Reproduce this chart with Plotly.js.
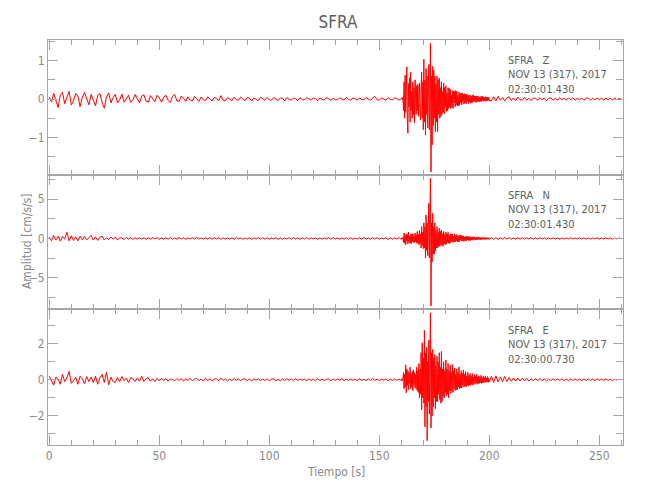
<!DOCTYPE html>
<html>
<head>
<meta charset="utf-8">
<script src="https://cdn.plot.ly/plotly-3.0.1.min.js"></script>
<style>html,body{margin:0;padding:0;background:#fff;}#chart{width:650px;height:500px;}</style>
</head>
<body>
<div id="chart"></div>
<script>
// ---- Data ----
// Sampling of each segment: [start time (s), step (s)]
const preSampling  = [0, 1];
const evtSampling  = [160.25, 0.25];
const postSampling = [201, 1];

// Z component (cm/s/s)
const zPre = [0.05,-0.08,0.15,-0.05,-0.22,0.1,0.18,-0.12,0.02,0.2,
 -0.15,-0.05,0.14,0.08,-0.2,0.05,0.17,0.02,-0.15,0.12,
 -0.06,-0.18,0.1,0.14,-0.08,-0.24,0.06,0.16,-0.1,0.04,
 0.12,-0.1,-0.02,0.13,-0.08,0.02,0.1,-0.09,-0.03,0.12,
 0.02,-0.1,0.08,0.11,-0.06,-0.08,0.09,0.0,-0.07,0.1,
 0.03,-0.08,0.05,0.1,-0.04,-0.09,0.07,0.12,-0.05,-0.06,
 0.08,0.02,-0.06,0.06,-0.03,-0.05,0.07,0.01,-0.06,0.05,
 -0.02,-0.04,0.06,0.0,-0.05,0.04,0.02,-0.05,0.09,-0.03,
 -0.05,0.04,0.01,-0.04,0.05,-0.02,-0.03,0.05,0.0,-0.04,
 0.04,0.02,-0.05,0.03,-0.01,-0.04,0.05,0.01,-0.03,0.04,
 -0.02,-0.03,0.04,0.0,-0.04,0.03,0.02,-0.05,0.04,-0.01,
 -0.03,0.03,0.01,-0.04,0.04,-0.02,-0.02,0.04,0.0,-0.03,
 0.03,0.01,-0.04,0.03,-0.01,-0.03,0.04,0.01,-0.03,0.02,
 -0.02,-0.02,0.03,0.0,-0.03,0.04,-0.01,-0.03,0.03,0.01,
 -0.03,0.03,-0.01,-0.02,0.04,0.0,-0.03,0.03,0.07,-0.02,
 -0.03,0.03,0.0,-0.03,0.04,-0.01,-0.02,0.03,0.01,-0.03,
 0.02];
const zEvt = [0.03,-0.02,0.05,-0.3, 0.45,-0.5,0.62,-0.35, 0.3,0.84,-0.6,-0.89, 0.4,-0.2,0.55,-0.6,
 0.7,-0.3,0.2,-0.5, 0.45,-0.4,0.3,-0.62, 0.5,0.1,-0.4,0.35, -0.3,0.38,-0.45,0.2,
 0.42,-0.35,-0.55,0.3, 0.7,-0.5,0.45,-0.8, 1.04,-0.6,0.5,-0.94, 0.8,-0.4,0.6,-0.75,
 0.5,0.9,-0.8,1.0, 1.45,-1.9,0.6,-1.2, 0.85,-0.7,0.75,-0.5, 0.6,-0.85,0.4,-0.6,
 0.6,-0.85,0.5,-0.4, 0.55,-0.5,0.3,-0.45, 0.45,-0.4,0.2,-0.35, 0.42,-0.38,0.3,-0.2,
 0.35,-0.32,0.15,-0.3, 0.3,-0.25,0.28,-0.2, 0.25,-0.25,0.1,-0.22, 0.22,-0.24,0.2,-0.1,
 0.2,-0.2,0.22,-0.15, 0.2,-0.17,0.1,-0.18, 0.18,-0.16,0.15,-0.1, 0.15,-0.15,0.16,-0.08,
 0.12,-0.13,0.14,-0.1, 0.12,-0.12,0.13,-0.06, 0.1,-0.12,0.1,-0.08, 0.1,-0.11,0.08,-0.09,
 0.1,-0.09,0.11,-0.05, 0.08,-0.08,0.07,-0.09, 0.08,-0.06,0.08,-0.07, 0.06,-0.07,0.05,-0.06,
 0.07,-0.06,0.08,-0.04, 0.06,-0.06,0.05,-0.05, 0.06,-0.06,0.04,-0.05, 0.05,-0.04,0.05,-0.04];
const zPost = [-0.04,0.06,-0.05,0.07,-0.03,0.04,-0.05,0.03,0.06,-0.04,
 0.03,-0.04,0.05,-0.02,-0.03,0.04,-0.03,0.02,-0.04,0.03,
 0.02,-0.03,0.04,-0.02,0.03,-0.04,0.02,0.03,-0.03,0.02,
 -0.03,0.04,-0.02,0.02,-0.03,0.03,-0.02,0.04,-0.03,0.02,
 -0.02,0.03,-0.03,0.02,0.03,-0.03,0.02,-0.02,0.03,-0.02,
 0.02,-0.03,0.03,-0.02,0.02,-0.03,0.03,-0.02,0.02,0.0];

// N component (cm/s/s)
const nPre = [0.2,-0.3,0.4,-0.2,0.3,-0.35,0.25,-0.1,0.8,-0.3,
 0.35,-0.25,0.2,-0.3,0.3,-0.15,0.25,-0.2,0.1,0.4,
 -0.2,0.2,-0.25,0.15,0.3,-0.2,0.1,-0.15,0.2,-0.1,
 0.15,-0.2,0.1,0.05,-0.15,0.15,-0.1,0.1,-0.12,0.1,
 -0.1,0.12,-0.08,0.1,-0.12,0.08,-0.1,0.12,-0.06,0.1,
 -0.12,0.08,-0.1,0.1,-0.08,0.12,-0.1,0.06,-0.1,0.1,
 -0.08,0.1,-0.12,0.08,-0.06,0.1,-0.1,0.12,-0.08,0.06,
 -0.1,0.1,-0.08,0.12,-0.1,0.08,-0.06,0.1,-0.12,0.08,
 -0.1,0.06,-0.08,0.1,-0.1,0.12,-0.08,0.08,-0.1,0.06,
 -0.08,0.1,-0.12,0.08,-0.06,0.1,-0.08,0.12,-0.1,0.08,
 -0.1,0.08,-0.06,0.1,-0.12,0.08,-0.1,0.06,-0.08,0.1,
 -0.1,0.12,-0.08,0.06,-0.1,0.1,-0.08,0.12,-0.1,0.08,
 -0.06,0.1,-0.12,0.08,-0.1,0.06,-0.08,0.1,-0.1,0.12,
 -0.08,0.08,-0.1,0.06,-0.08,0.1,-0.12,0.08,-0.1,0.06,
 -0.08,0.1,-0.1,0.12,-0.08,0.06,-0.1,0.1,-0.08,0.12,
 -0.1,0.08,-0.06,0.1,-0.12,0.08,-0.1,0.06,-0.08,0.1,
 -0.1];
const nEvt = [0.1,-0.05,0.1,-0.5, 0.7,-0.6,0.4,-0.8, 0.6,-0.3,0.5,-0.7, 0.8,-0.5,0.3,-0.6,
 0.5,-0.7,0.6,-0.4, 0.6,-0.5,0.3,-0.5, 0.7,-0.4,0.5,-0.6, 0.9,-0.6,0.5,-0.8,
 1.0,-0.7,0.6,-1.2, 1.5,-0.9,0.8,-1.3, 2.0,-1.2,1.5,-2.5, 3.0,-1.5,2.0,-2.2,
 2.5,4.5,-2.5,3.0, 7.7,-8.6,2.0,-3.0, 3.2,-2.0,1.5,-2.0, 2.0,-1.6,1.0,-1.2,
 1.5,-1.2,0.8,-1.0, 1.3,-1.0,0.9,-0.8, 1.1,-0.9,0.6,-1.0, 0.9,-0.7,0.5,-0.8,
 0.8,-0.7,0.6,-0.5, 0.8,-0.6,0.4,-0.65, 0.6,-0.5,0.55,-0.4, 0.55,-0.5,0.3,-0.45,
 0.6,-0.45,0.4,-0.3, 0.5,-0.45,0.3,-0.4, 0.4,-0.4,0.45,-0.2, 0.45,-0.35,0.3,-0.35,
 0.35,-0.35,0.2,-0.3, 0.3,-0.3,0.25,-0.2, 0.3,-0.25,0.2,-0.25, 0.25,-0.25,0.15,-0.2,
 0.2,-0.22,0.2,-0.12, 0.2,-0.2,0.1,-0.18, 0.18,-0.18,0.15,-0.1, 0.2,-0.15,0.1,-0.15,
 0.15,-0.15,0.12,-0.1, 0.14,-0.12,0.1,-0.12, 0.12,-0.13,0.08,-0.1, 0.12,-0.1,0.1,-0.1];
const nPost = [0.12,-0.1,0.1,-0.12,0.08,-0.1,0.12,-0.08,0.1,-0.1,
 0.08,-0.1,0.1,-0.08,0.12,-0.1,0.08,-0.06,0.1,-0.1,
 0.08,-0.08,0.1,-0.06,0.08,-0.1,0.06,-0.08,0.1,-0.06,
 0.08,-0.1,0.06,-0.08,0.08,-0.06,0.1,-0.08,0.06,-0.08,
 0.1,-0.06,0.08,-0.08,0.06,-0.1,0.08,-0.06,0.08,-0.08,
 0.06,-0.08,0.1,-0.06,0.08,-0.08,0.06,-0.06,0.08,-0.05];

// E component (cm/s/s)
const ePre = [0.2,-0.1,-0.3,0.15,0.05,-0.25,0.3,-0.1,0.1,0.46,
 -0.2,-0.05,0.15,-0.25,0.2,0.05,-0.22,0.18,-0.1,0.15,
 -0.15,0.2,-0.25,0.1,0.3,-0.15,0.43,-0.28,0.15,-0.1,
 -0.15,0.12,-0.1,0.18,-0.05,0.1,-0.15,0.12,0.05,-0.1,
 0.1,-0.08,0.2,-0.1,0.05,0.12,-0.08,0.06,-0.1,0.08,
 -0.06,0.08,-0.05,0.06,-0.08,0.05,0.02,-0.06,0.07,-0.04,
 0.06,-0.08,0.05,-0.04,0.08,-0.06,0.04,0.07,-0.05,0.03,
 -0.06,0.08,-0.04,0.05,-0.07,0.04,0.06,-0.05,0.1,-0.04,
 0.05,-0.06,0.04,-0.05,0.07,-0.03,0.05,-0.06,0.04,0.06,
 -0.05,0.04,-0.06,0.05,-0.03,0.06,-0.05,0.04,-0.04,0.05,
 -0.06,0.04,0.05,-0.05,0.03,-0.06,0.05,-0.04,0.06,-0.03,
 0.04,-0.05,0.06,-0.04,0.05,-0.03,0.04,-0.06,0.05,-0.04,
 0.03,-0.05,0.06,-0.04,0.04,-0.05,0.03,0.05,-0.06,0.04,
 -0.04,0.05,-0.03,0.06,-0.05,0.04,-0.04,0.05,-0.03,0.04,
 -0.05,0.06,-0.04,0.03,-0.05,0.05,-0.04,0.06,-0.03,0.04,
 -0.05,0.04,-0.03,0.05,-0.06,0.04,-0.04,0.05,-0.03,0.04,
 -0.04];
const eEvt = [0.05,-0.05,0.1,0.4, -0.5,0.3,-0.4,0.83, -0.72,0.6,-0.3,0.5, -0.55,0.4,-0.2,0.7,
 -0.5,0.3,-0.4,0.45, -0.6,0.55,-0.3,0.4, -0.45,0.3,-0.5,0.7, -0.6,0.5,-0.7,0.9,
 -1.0,0.6,-0.8,1.5, -1.67,2.05,-1.0,1.2, -1.3,2.74,-2.6,1.5, -1.5,1.8,-3.37,1.0,
 -1.2,2.2,-1.9,3.5, 3.7,-2.67,1.5,-2.0, 1.67,-1.5,1.2,-1.0, 1.4,-1.6,0.8,-1.2,
 1.3,-1.2,1.0,-0.8, 1.5,-1.1,0.7,-1.3, 1.57,-1.2,0.6,-0.9, 1.0,-1.0,0.5,-0.7,
 1.1,-0.9,0.6,-0.8, 0.9,-1.0,0.5,-0.6, 0.8,-0.75,0.4,-0.6, 0.85,-0.7,0.5,-0.5,
 0.65,-0.6,0.3,-0.55, 0.6,-0.55,0.4,-0.4, 0.7,-0.5,0.3,-0.45, 0.5,-0.45,0.35,-0.3,
 0.55,-0.4,0.3,-0.35, 0.45,-0.4,0.2,-0.3, 0.4,-0.35,0.25,-0.3, 0.35,-0.3,0.2,-0.25,
 0.35,-0.3,0.15,-0.2, 0.28,-0.25,0.2,-0.18, 0.3,-0.25,0.15,-0.2, 0.22,-0.2,0.12,-0.15,
 0.25,-0.2,0.1,-0.18, 0.2,-0.18,0.12,-0.1, 0.22,-0.15,0.1,-0.12, 0.18,-0.15,0.08,-0.12];
const ePost = [0.2,-0.15,0.22,-0.12,0.15,-0.1,0.18,-0.1,0.12,-0.08,
 0.1,-0.08,0.09,-0.07,0.08,-0.06,0.08,-0.07,0.06,-0.05,
 0.06,-0.05,0.07,-0.04,0.05,-0.06,0.04,-0.05,0.06,-0.04,
 0.05,-0.04,0.06,-0.05,0.04,-0.05,0.05,-0.04,0.05,-0.04,
 0.04,-0.05,0.05,-0.04,0.05,-0.04,0.04,-0.05,0.05,-0.04,
 0.04,-0.04,0.05,-0.04,0.04,-0.05,0.04,-0.03];

// Labels
const stationName = 'SFRA';
const components = ['Z', 'N', 'E'];
const dateLabel = 'NOV 13 (317), 2017';
const startTimes = ['02:30:01.430', '02:30:01.430', '02:30:00.730'];
const xTitle = 'Tiempo [s]';
const yTitle = 'Amplitud [cm/s/s]';

// ---- Build ----
function times(sampling, vals) { return vals.map((_, i) => sampling[0] + i * sampling[1]); }
function series(pre, evt, post) {
  return {
    x: [].concat(times(preSampling, pre), times(evtSampling, evt), times(postSampling, post)),
    y: [].concat(pre, evt, post)
  };
}
const sZ = series(zPre, zEvt, zPost);
const sN = series(nPre, nEvt, nPost);
const sE = series(ePre, eEvt, ePost);

const RED = '#ff0000';
const LINE = '#a6a6a6';
const TICKTXT = '#8a8a8a';
const TXT = '#5e5e5e';
const FONT = '"DejaVu Sans Condensed", "Liberation Sans Narrow", "Liberation Sans", sans-serif';

const mk = (s, xa, ya) => ({x: s.x, y: s.y, xaxis: xa, yaxis: ya, type: 'scatter', mode: 'lines',
  line: {color: RED, width: 1}, hoverinfo: 'skip', showlegend: false});
const data = [mk(sZ, 'x', 'y'), mk(sN, 'x2', 'y2'), mk(sE, 'x3', 'y3')];

const XR = [-0.59, 260.77];
function xax(anchor, labels) {
  return {anchor: anchor, range: XR, showline: true, linecolor: LINE, linewidth: 1, mirror: 'ticks',
    ticks: 'inside', ticklen: 10, tickcolor: LINE, dtick: 50, tick0: 0, showgrid: false, zeroline: false,
    showticklabels: labels, tickfont: {family: FONT, size: 12, color: TICKTXT},
    minor: {ticks: 'inside', ticklen: 5, dtick: 10, tick0: 0, tickcolor: LINE, showgrid: false}};
}
function yax(anchor, domain, range, dtick, mdtick) {
  return {anchor: anchor, domain: domain, range: range, showline: true, linecolor: LINE, linewidth: 1,
    mirror: 'ticks', ticks: 'inside', ticklen: 10, tickcolor: LINE, dtick: dtick, tick0: 0,
    showgrid: false, zeroline: false, tickfont: {family: FONT, size: 12, color: TICKTXT},
    minor: {ticks: 'inside', ticklen: 7, dtick: mdtick, tick0: 0, tickcolor: LINE, showgrid: false}};
}

const textX = 0.7965;
const panelTextY = [0.9136, 0.5802, 0.2469];
const annotations = components.map((c, i) => ({xref: 'paper', yref: 'paper', x: textX, y: panelTextY[i],
  xanchor: 'left', yanchor: 'middle', align: 'left', showarrow: false,
  text: stationName + '\u00a0\u00a0\u00a0' + c + '<br>' + dateLabel + '<br>' + startTimes[i],
  font: {family: FONT, size: 11, color: TXT}}));
annotations.push({xref: 'paper', yref: 'paper', x: 0.5017, y: -0.066, xanchor: 'center', yanchor: 'middle',
  text: xTitle, showarrow: false, font: {family: FONT, size: 12, color: TICKTXT}});
annotations.push({xref: 'paper', yref: 'paper', x: -0.0365, y: 0.5037, xanchor: 'center', yanchor: 'middle',
  text: yTitle, textangle: -90, showarrow: false, font: {family: FONT, size: 12, color: TICKTXT}});

const layout = {
  width: 650, height: 500,
  margin: {l: 48, r: 27, t: 40, b: 55},
  paper_bgcolor: '#fff', plot_bgcolor: '#fff',
  title: {text: stationName, x: 0.52, xanchor: 'center', y: 0.956, yanchor: 'middle', yref: 'container',
    font: {family: FONT, size: 17, color: TXT}},
  xaxis: xax('y', false),
  xaxis2: xax('y2', false),
  xaxis3: xax('y3', true),
  yaxis: yax('x', [0.6667, 1], [-1.98, 1.54], 1, 0.5),
  yaxis2: yax('x2', [0.3346, 0.6667], [-9.06, 8.1], 5, 2.5),
  yaxis3: yax('x3', [0, 0.3346], [-3.61, 3.89], 2, 1),
  annotations: annotations
};

Plotly.newPlot('chart', data, layout, {displayModeBar: false, staticPlot: true});
</script>
</body>
</html>
